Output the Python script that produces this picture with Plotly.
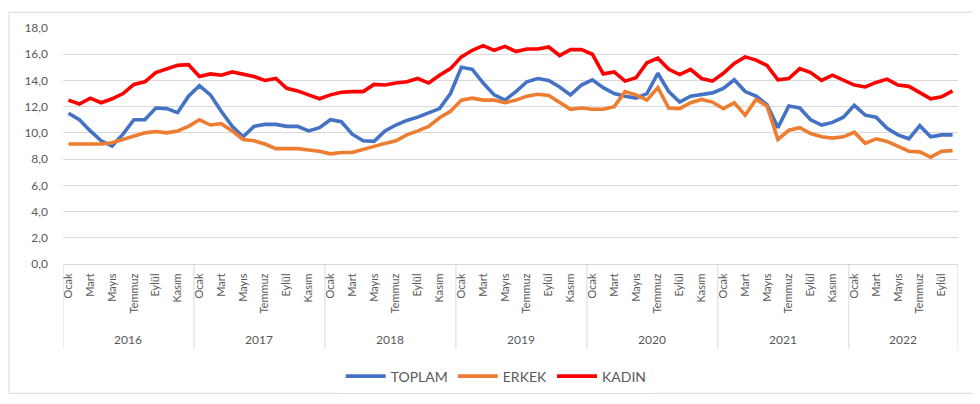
import plotly.graph_objects as go

years = ["2016", "2017", "2018", "2019", "2020", "2021", "2022"]
month_names = ["Ocak", "Şubat", "Mart", "Nisan", "Mayıs", "Haziran",
               "Temmuz", "Ağustos", "Eylül", "Ekim", "Kasım", "Aralık"]
shown_months = ["Ocak", "Mart", "Mayıs", "Temmuz", "Eylül", "Kasım"]

toplam = [11.5, 11.0, 10.15, 9.4, 9.0, 9.9, 11.0, 11.0, 11.9, 11.85, 11.55, 12.8,
          13.6, 12.9, 11.65, 10.5, 9.7, 10.5, 10.65, 10.65, 10.5, 10.5, 10.15, 10.4,
          11.0, 10.85, 9.9, 9.4, 9.35, 10.15, 10.6, 10.95, 11.2, 11.5, 11.85, 13.0,
          15.0, 14.85, 13.8, 12.9, 12.5, 13.15, 13.9, 14.15, 14.0, 13.5, 12.9, 13.65,
          14.05, 13.45, 13.0, 12.8, 12.65, 13.0, 14.55, 13.15, 12.35, 12.8, 12.9, 13.05,
          13.4, 14.05, 13.15, 12.8, 12.15, 10.4, 12.05, 11.9, 11.0, 10.6, 10.8, 11.2,
          12.1, 11.35, 11.2, 10.35, 9.85, 9.55, 10.55, 9.7, 9.85, 9.85]
erkek = [9.15, 9.15, 9.15, 9.15, 9.25, 9.5, 9.8, 10.0, 10.1, 10.0, 10.15, 10.5,
         11.0, 10.6, 10.7, 10.15, 9.5, 9.4, 9.15, 8.8, 8.8, 8.8, 8.7, 8.6,
         8.4, 8.5, 8.5, 8.75, 9.0, 9.2, 9.4, 9.85, 10.15, 10.5, 11.15, 11.65,
         12.5, 12.65, 12.5, 12.5, 12.3, 12.5, 12.8, 12.95, 12.85, 12.35, 11.8, 11.9,
         11.8, 11.8, 12.0, 13.15, 12.9, 12.5, 13.45, 11.9, 11.85, 12.3, 12.55, 12.35,
         11.85, 12.3, 11.35, 12.55, 12.05, 9.5, 10.2, 10.4, 9.95, 9.7, 9.6, 9.7,
         10.05, 9.2, 9.55, 9.35, 8.95, 8.6, 8.55, 8.15, 8.6, 8.65]
kadin = [12.5, 12.2, 12.65, 12.3, 12.6, 13.0, 13.7, 13.9, 14.6, 14.9, 15.15, 15.2,
         14.3, 14.5, 14.4, 14.65, 14.5, 14.3, 14.0, 14.15, 13.4, 13.2, 12.9, 12.6,
         12.9, 13.1, 13.15, 13.15, 13.7, 13.65, 13.8, 13.9, 14.15, 13.8, 14.4, 14.9,
         15.8, 16.3, 16.65, 16.3, 16.6, 16.2, 16.4, 16.4, 16.55, 15.9, 16.35, 16.35,
         16.0, 14.5, 14.65, 13.95, 14.2, 15.35, 15.7, 14.85, 14.45, 14.85, 14.15, 13.95,
         14.55, 15.3, 15.8, 15.55, 15.15, 14.05, 14.15, 14.9, 14.6, 14.0, 14.4, 14.0,
         13.65, 13.5, 13.85, 14.1, 13.65, 13.55, 13.1, 12.6, 12.75, 13.2]

series = [("TOPLAM", toplam, "#4472C4"), ("ERKEK", erkek, "#ED7D31"), ("KADIN", kadin, "#FF0000")]

n = len(toplam)
x = list(range(n))
labels = [month_names[i % 12] for i in x]

fig = go.Figure()
for name, vals, color in series:
    fig.add_trace(go.Scatter(x=x, y=vals, mode="lines", name=name,
                             line=dict(color=color, width=3.6),
                             customdata=[f"{labels[i]} {years[i // 12]}" for i in x],
                             hovertemplate="%{customdata}: %{y:.1f}<extra>" + name + "</extra>"))

tickvals = [i for i in x if labels[i] in shown_months]
ticktext = [labels[i] for i in tickvals]

grey = "#595959"
line_grey = "#d9d9d9"

shapes = []
annotations = []
# year separators and labels
for k, yr in enumerate(years):
    start = 12 * k - 0.5
    end = min(12 * (k + 1), n) - 0.5
    shapes.append(dict(type="line", xref="x", yref="paper", x0=start, x1=start,
                       y0=0, y1=-0.36, line=dict(color=line_grey, width=1)))
    annotations.append(dict(x=(start + end) / 2, y=-0.318, xref="x", yref="paper",
                            text=yr, showarrow=False, yanchor="middle",
                            font=dict(size=12, color=grey)))
shapes.append(dict(type="line", xref="x", yref="paper", x0=n - 0.5, x1=n - 0.5,
                   y0=0, y1=-0.36, line=dict(color=line_grey, width=1)))
# outer chart border
shapes.append(dict(type="rect", xref="paper", yref="paper", x0=-0.0603, x1=1.0212,
                   y0=-0.548, y1=1.067, line=dict(color=line_grey, width=1),
                   fillcolor="rgba(0,0,0,0)", layer="below"))

fig.update_layout(
    width=972, height=396,
    margin=dict(l=55, r=22, t=17, b=140),
    paper_bgcolor="white", plot_bgcolor="white",
    separators=",.",
    font=dict(family="Lato, 'Open Sans', sans-serif", color=grey, size=12),
    showlegend=True,
    legend=dict(orientation="h", x=0.484, xanchor="center", y=-0.477, yanchor="middle",
                font=dict(size=14, color=grey), itemwidth=40, traceorder="normal"),
    shapes=shapes,
    annotations=annotations,
    xaxis=dict(range=[-0.5, n - 0.5], tickmode="array", tickvals=tickvals, ticktext=ticktext,
               tickangle=-90, showgrid=False, zeroline=False, showline=True,
               linecolor=line_grey, linewidth=1, ticks="", ticklabelstandoff=4,
               tickfont=dict(size=11, color=grey), fixedrange=True),
    yaxis=dict(range=[0, 18], dtick=2, tickformat=".1f", showgrid=True, gridcolor=line_grey,
               gridwidth=1, zeroline=False, showline=False, ticks="",
               ticklabelstandoff=14, tickfont=dict(size=12, color=grey), fixedrange=True),
)

fig.write_html("out.html")
